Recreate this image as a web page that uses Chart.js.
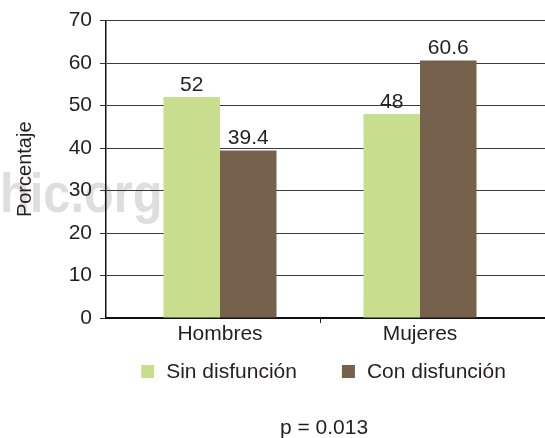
<!DOCTYPE html>
<html>
<head>
<meta charset="utf-8">
<script src="https://cdn.jsdelivr.net/npm/chart.js@4"></script>
<style>
html,body{margin:0;padding:0;background:#fff;}
#wrap{width:545px;height:438px;position:relative;}
</style>
</head>
<body>
<div id="wrap"><canvas id="c" width="545" height="438"></canvas></div>
<script>
const categories = ["Hombres", "Mujeres"];
const sinDisfuncion = [52, 48];
const conDisfuncion = [39.4, 60.6];
const seriesNames = ["Sin disfunción", "Con disfunción"];
const seriesColors = ["#c9dd8e", "#76624c"];
const yTicks = [0, 10, 20, 30, 40, 50, 60, 70];
const pText = "p = 0.013";

const FONT = "'Liberation Sans', Arial, Helvetica, sans-serif";
const TXT = "#231f20";

const toPoints = arr => arr.map((v, i) => ({ x: i + 1, y: v }));

const watermark = {
  id: 'watermark',
  beforeDraw(chart) {
    const ctx = chart.ctx;
    ctx.save();
    ctx.font = "bold 56px " + FONT;
    ctx.fillStyle = "#dedede";
    ctx.textAlign = "left";
    ctx.textBaseline = "alphabetic";
    ctx.translate(0, 212);
    ctx.scale(0.87, 1);
    ctx.fillText("hic.org", 0, 0);
    ctx.restore();
  }
};

const valueLabels = {
  id: 'valueLabels',
  afterDatasetsDraw(chart) {
    const ctx = chart.ctx;
    ctx.save();
    ctx.font = "21px " + FONT;
    ctx.fillStyle = TXT;
    ctx.textAlign = "center";
    ctx.textBaseline = "alphabetic";
    chart.data.datasets.forEach((ds, i) => {
      const meta = chart.getDatasetMeta(i);
      meta.data.forEach((bar, j) => {
        ctx.fillText(String(ds.data[j].y), bar.x, bar.y - 6.5);
      });
    });
    ctx.restore();
  }
};

const extras = {
  id: 'extras',
  afterDraw(chart) {
    const ctx = chart.ctx;
    const xs = chart.scales.x;
    const area = chart.chartArea;
    ctx.save();
    // divider tick between categories
    const xm = Math.round(xs.getPixelForValue(1.5)) + 0.5;
    ctx.strokeStyle = "#222";
    ctx.lineWidth = 1;
    ctx.beginPath();
    ctx.moveTo(xm, area.bottom);
    ctx.lineTo(xm, area.bottom + 5);
    ctx.stroke();

    // legend
    ctx.font = "21px " + FONT;
    ctx.textBaseline = "alphabetic";
    ctx.textAlign = "left";
    const box = 13, gapText = 12, gapItem = 45;
    const items = chart.data.datasets.map(ds => ({ label: ds.label, color: ds.backgroundColor, w: ctx.measureText(ds.label).width }));
    let total = 0;
    items.forEach((it, i) => { total += box + gapText + it.w + (i < items.length - 1 ? gapItem : 0); });
    let x = (area.left + area.right) / 2 - 2 - total / 2;
    const baseY = area.bottom + 60;
    items.forEach(it => {
      ctx.fillStyle = it.color;
      ctx.fillRect(x, baseY - box, box, box);
      ctx.fillStyle = TXT;
      ctx.fillText(it.label, x + box + gapText, baseY);
      x += box + gapText + it.w + gapItem;
    });

    // p value
    ctx.textAlign = "center";
    ctx.fillText(pText, (area.left + area.right) / 2 - 1.5, area.bottom + 115.5);
    ctx.restore();
  }
};

new Chart(document.getElementById('c'), {
  type: 'bar',
  data: {
    datasets: [
      { label: seriesNames[0], data: toPoints(sinDisfuncion), backgroundColor: seriesColors[0], borderWidth: 0 },
      { label: seriesNames[1], data: toPoints(conDisfuncion), backgroundColor: seriesColors[1], borderWidth: 0 }
    ]
  },
  options: {
    responsive: false,
    animation: false,
    devicePixelRatio: 1,
    layout: { padding: { top: 18, right: 0, bottom: 70, left: 0 } },
    datasets: { bar: { categoryPercentage: 0.565, barPercentage: 1.0 } },
    scales: {
      x: {
        type: 'linear',
        offset: false,
        grace: 0,
        min: 0.43,
        max: 2.625,
        afterBuildTicks(s) { s.ticks = categories.map((c, i) => ({ value: i + 1 })); },
        grid: { display: false, drawTicks: false },
        border: { display: true, color: '#111', width: 2 },
        ticks: {
          font: { size: 21, family: FONT }, color: TXT, padding: 4,
          callback: (v) => categories[Math.round(v) - 1] || ''
        },
        afterFit(s) { s.height = 50; }
      },
      y: {
        min: 0, max: 70,
        afterBuildTicks(s) { s.ticks = yTicks.map(v => ({ value: v })); },
        grid: { color: '#3a3a3a', lineWidth: 1, drawTicks: true, tickLength: 6 },
        border: { display: true, color: '#111', width: 1.5 },
        ticks: { font: { size: 21, family: FONT }, color: TXT, padding: 8 },
        title: { display: true, text: 'Porcentaje', font: { size: 20, family: FONT }, color: TXT, padding: { top: 13, bottom: 0 } },
        afterFit(s) { s.width = 106; }
      }
    },
    plugins: {
      legend: { display: false },
      tooltip: { enabled: false },
      title: { display: false }
    }
  },
  plugins: [watermark, valueLabels, extras]
});
</script>
</body>
</html>
